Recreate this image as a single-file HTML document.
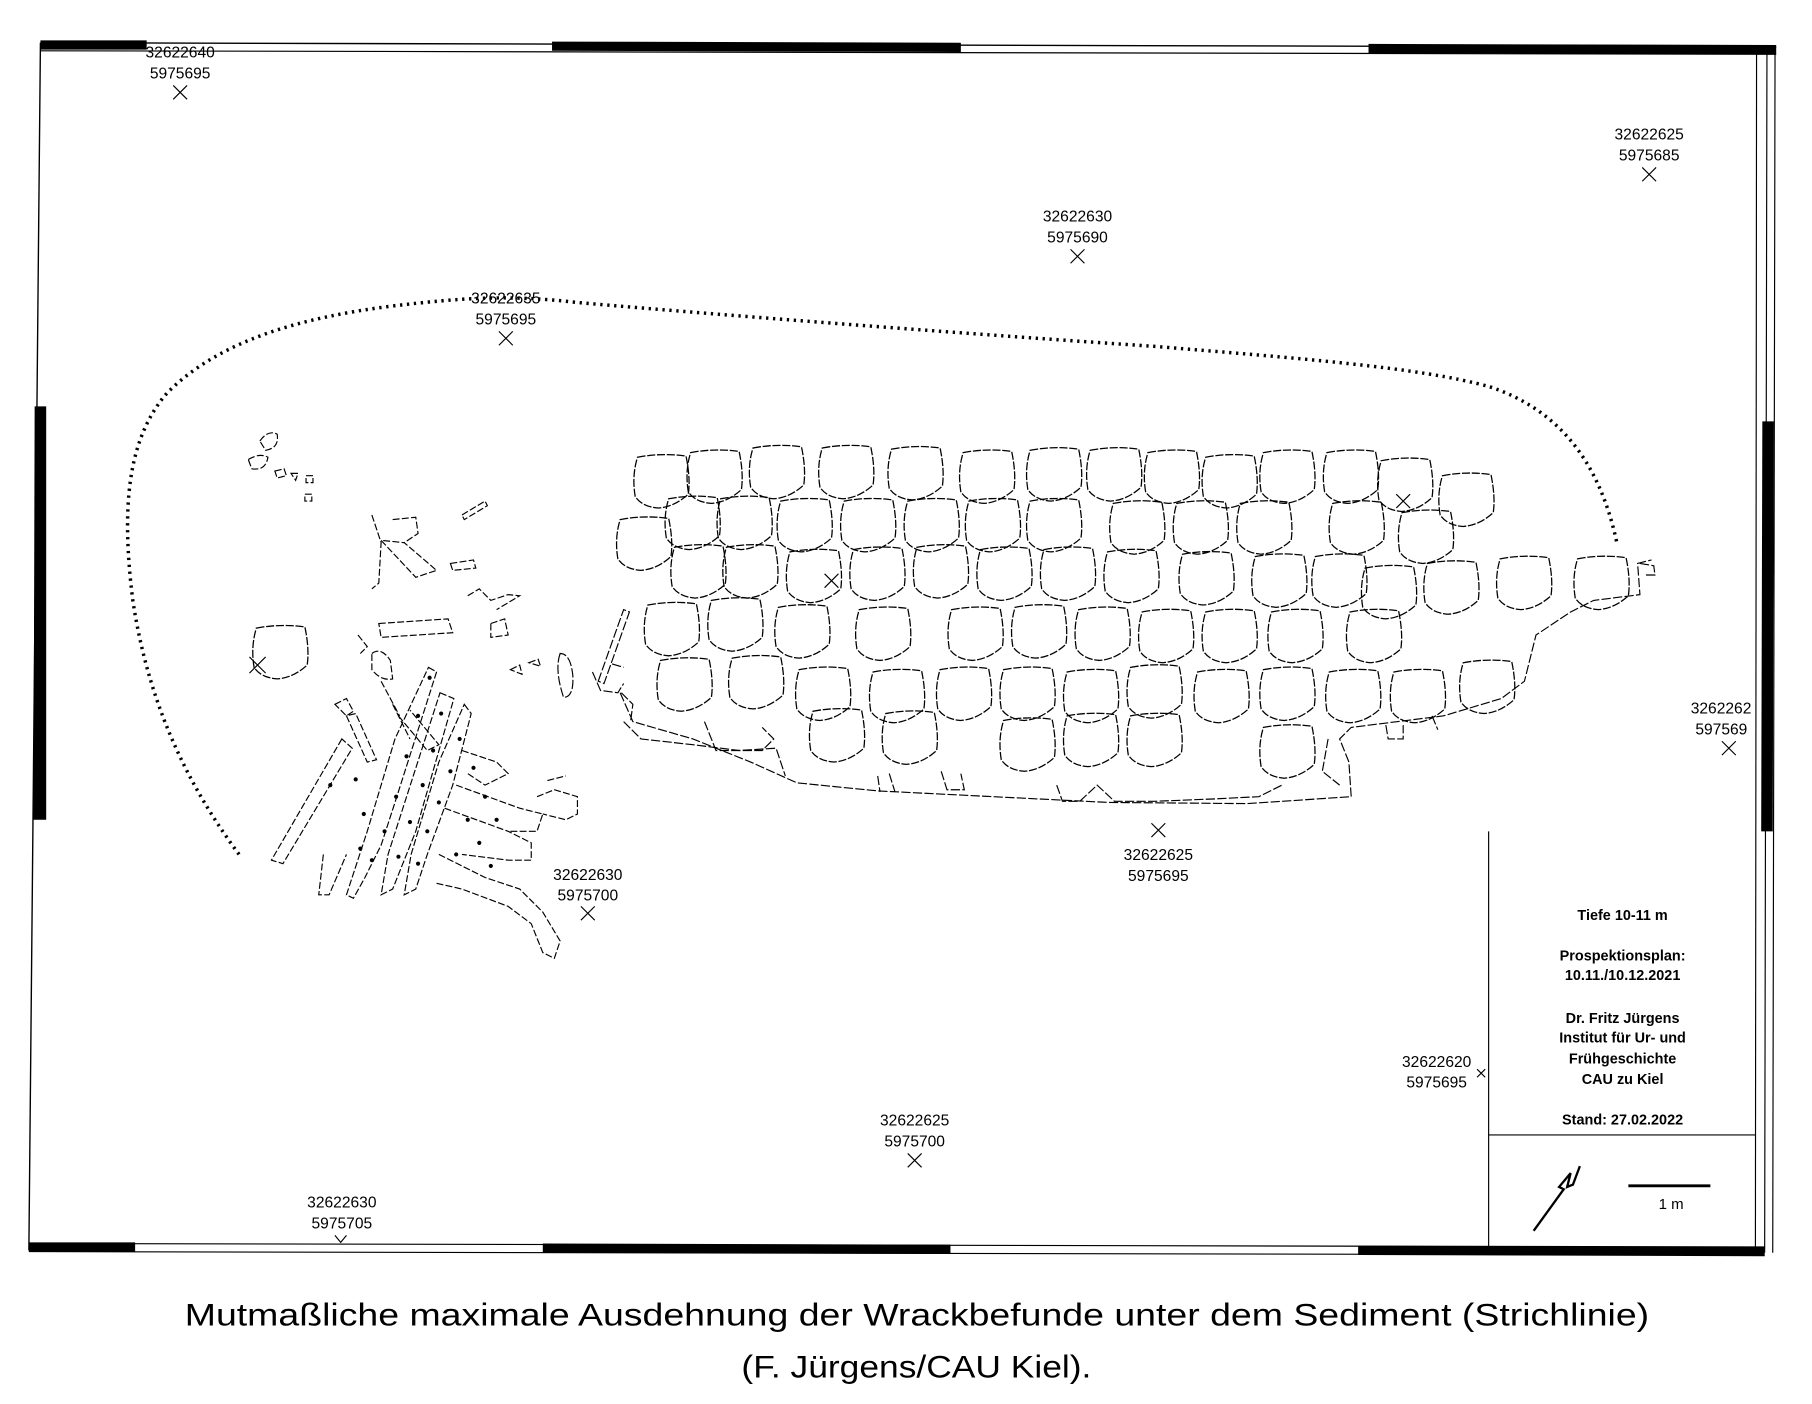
<!DOCTYPE html>
<html><head><meta charset="utf-8"><style>
html,body{margin:0;padding:0;background:#fff;}
svg{display:block;}
text{font-family:"Liberation Sans",sans-serif;}
</style></head><body>
<svg width="1812" height="1404" viewBox="0 0 1569 1216" preserveAspectRatio="none" xmlns="http://www.w3.org/2000/svg">
<defs>
<path id="st" d="M4,4 Q25,0 46,3 Q50,22 48,36 Q36,47 22,48 Q8,47 2,38 Q-1,20 4,4 Z" fill="none" stroke="#000" stroke-width="1.1" stroke-dasharray="7 1.5"/>
</defs>
<rect width="1569" height="1216" fill="#fff"/>
<g stroke="#000" fill="none">
<path d="M35,37 L1538,41" stroke-width="1.2"/>
<path d="M35,44 L1538,47" stroke-width="1"/>
<path d="M35,37 L25,1083" stroke-width="1.2"/>
<path d="M1530,41 L1528,1085" stroke-width="1"/>
<path d="M1537,41 L1535,1085" stroke-width="1"/>
<path d="M25,1077 L1528,1080" stroke-width="1"/>
<path d="M25,1084 L1528,1087" stroke-width="1"/>
</g>
<g fill="#000">
<polygon points="35,35 127,35 127,43 35,43"/>
<polygon points="478,36 832,37 832,45 478,44"/>
<polygon points="1185,38 1538,39 1538,47 1185,46"/>
<polygon points="30,352 40,352 40,710 29,710"/>
<polygon points="1526,365 1536,365 1535,720 1525,720"/>
<polygon points="25,1076 117,1076 117,1084 25,1084"/>
<polygon points="470,1077 823,1078 823,1086 470,1085"/>
<polygon points="1176,1079 1528,1080 1528,1088 1176,1087"/>
</g>
<g stroke="#000" stroke-width="1" fill="none">
<line x1="1289" y1="720" x2="1289" y2="1080"/>
<line x1="1521" y1="40" x2="1520" y2="1080"/>
<line x1="1289" y1="983" x2="1520" y2="983"/>
<line x1="1410" y1="1027" x2="1481" y2="1027" stroke-width="2.5"/>
<path d="M1328,1066 L1354,1030 L1350,1028 L1360,1016 L1357,1028 L1362,1026 L1368,1010" stroke-width="2"/>
</g>
<g font-size="12.5" font-weight="bold" text-anchor="middle" fill="#000">
<text x="1405" y="797">Tiefe 10-11 m</text>
<text x="1405" y="832">Prospektionsplan:</text>
<text x="1405" y="849">10.11./10.12.2021</text>
<text x="1405" y="886">Dr. Fritz Jürgens</text>
<text x="1405" y="903">Institut für Ur- und</text>
<text x="1405" y="921">Frühgeschichte</text>
<text x="1405" y="939">CAU zu Kiel</text>
<text x="1405" y="974">Stand: 27.02.2022</text>
</g>
<text x="1447" y="1047" font-size="13" text-anchor="middle">1 m</text>
<g font-size="13.5" text-anchor="middle" fill="#000">
<text x="156" y="50">32622640</text><text x="156" y="68">5975695</text>
<text x="1428" y="121">32622625</text><text x="1428" y="139">5975685</text>
<text x="933" y="192">32622630</text><text x="933" y="210">5975690</text>
<text x="438" y="263">32622635</text><text x="438" y="281">5975695</text>
<text x="509" y="762">32622630</text><text x="509" y="780">5975700</text>
<text x="1003" y="745">32622625</text><text x="1003" y="763">5975695</text>
<text x="792" y="975">32622625</text><text x="792" y="993">5975700</text>
<text x="296" y="1046">32622630</text><text x="296" y="1064">5975705</text>
<text x="1244" y="924">32622620</text><text x="1244" y="942">5975695</text>
<text x="1464" y="618" text-anchor="start">3262262</text><text x="1468" y="636" text-anchor="start">597569</text>
</g>
<g stroke="#000" stroke-width="1" fill="none">
<path d="M150,74 l12,12 M162,74 l-12,12"/>
<path d="M1422,145 l12,12 M1434,145 l-12,12"/>
<path d="M927,216 l12,12 M939,216 l-12,12"/>
<path d="M432,287 l12,12 M444,287 l-12,12"/>
<path d="M503,785 l12,12 M515,785 l-12,12"/>
<path d="M997,713 l12,12 M1009,713 l-12,12"/>
<path d="M786,999 l12,12 M798,999 l-12,12"/>
<path d="M1279,926 l7,7 M1286,926 l-7,7"/>
<path d="M1491,642 l12,12 M1503,642 l-12,12"/>
<path d="M290,1070 l5,6 l5,-6"/>
<path d="M216,569 l14,14 M230,569 l-14,14"/>
<path d="M714,497 l12,12 M726,497 l-12,12"/>
<path d="M1209,428 l12,12 M1221,428 l-12,12"/>
</g>
<path d="M207,740 C170,690 130,620 115,520 C105,440 110,380 145,340 C190,295 260,275 340,265 C400,258 440,255 500,262 C650,275 850,290 1000,300 C1120,310 1230,318 1290,335 C1350,355 1385,400 1400,470" fill="none" stroke="#000" stroke-width="3" stroke-dasharray="2 4"/>
<g>
<use href="#st" x="548" y="392"/><use href="#st" x="594" y="388"/><use href="#st" x="648" y="384"/><use href="#st" x="708" y="384"/><use href="#st" x="768" y="385"/><use href="#st" x="830" y="388"/><use href="#st" x="888" y="386"/><use href="#st" x="940" y="386"/><use href="#st" x="990" y="388"/><use href="#st" x="1040" y="392"/><use href="#st" x="1090" y="388"/><use href="#st" x="1145" y="388"/><use href="#st" x="1192" y="395"/><use href="#st" x="1245" y="408"/>
<use href="#st" x="575" y="428"/><use href="#st" x="620" y="428"/><use href="#st" x="672" y="430"/><use href="#st" x="727" y="430"/><use href="#st" x="782" y="430"/><use href="#st" x="835" y="430"/><use href="#st" x="888" y="430"/><use href="#st" x="960" y="432"/><use href="#st" x="1015" y="432"/><use href="#st" x="1070" y="432"/><use href="#st" x="1150" y="432"/><use href="#st" x="1210" y="440"/>
<use href="#st" x="533" y="446"/><use href="#st" x="580" y="470"/><use href="#st" x="625" y="470"/><use href="#st" x="680" y="474"/><use href="#st" x="735" y="472"/><use href="#st" x="790" y="470"/><use href="#st" x="845" y="472"/><use href="#st" x="900" y="472"/><use href="#st" x="955" y="474"/><use href="#st" x="1020" y="476"/><use href="#st" x="1083" y="478"/><use href="#st" x="1135" y="478"/><use href="#st" x="1178" y="488"/><use href="#st" x="1232" y="484"/><use href="#st" x="1295" y="480"/><use href="#st" x="1362" y="480"/>
<use href="#st" x="557" y="520"/><use href="#st" x="612" y="516"/><use href="#st" x="670" y="522"/><use href="#st" x="740" y="524"/><use href="#st" x="820" y="524"/><use href="#st" x="875" y="522"/><use href="#st" x="930" y="524"/><use href="#st" x="985" y="526"/><use href="#st" x="1040" y="526"/><use href="#st" x="1097" y="526"/><use href="#st" x="1165" y="526"/>
<use href="#st" x="568" y="568"/><use href="#st" x="630" y="566"/><use href="#st" x="688" y="576"/><use href="#st" x="752" y="578"/><use href="#st" x="810" y="576"/><use href="#st" x="865" y="576"/><use href="#st" x="920" y="578"/><use href="#st" x="975" y="574"/><use href="#st" x="1033" y="578"/><use href="#st" x="1090" y="576"/><use href="#st" x="1147" y="578"/><use href="#st" x="1203" y="578"/><use href="#st" x="1263" y="570"/>
<use href="#st" x="700" y="612"/><use href="#st" x="763" y="614"/><use href="#st" x="865" y="620"/><use href="#st" x="920" y="616"/><use href="#st" x="975" y="616"/><use href="#st" x="1090" y="626"/>
<use href="#st" x="218" y="540"/>
</g>
<g stroke="#000" stroke-width="1" fill="none" stroke-dasharray="8 2">
<path d="M537,600 L548,625 L600,640 L650,660 L690,678 L760,685 L860,690 L960,695 L1080,696 L1170,690 L1168,660 L1160,640 L1170,630 L1250,620 L1300,605 L1320,590 L1330,550 L1360,530 L1380,520 L1420,515 L1418,488 L1430,485"/>
<path d="M540,625 L555,640 L600,645 L640,650 L672,648 L680,672"/>
<path d="M610,625 L620,650 L660,650 L670,640 L660,630"/>
<path d="M760,672 L762,686 M770,670 L775,686 M815,668 L820,684 L835,684 L832,670"/>
<path d="M915,680 L920,694 L935,694 L950,680 L965,694 L1000,694 L1050,692 L1090,690 L1110,680"/>
<path d="M1200,628 L1202,640 L1215,640 L1215,628 M1240,620 L1245,632"/>
<path d="M1150,640 L1145,668 L1160,680"/>
<path d="M518,590 L540,528 L545,530 L523,592 Z"/>
<path d="M485,566 Q480,580 488,604 Q497,604 496,585 Q494,566 485,566 Z"/>
<path d="M513,582 L520,598 L535,600 L540,592 M530,575 L540,578"/>
<path d="M538,600 L548,610 L546,625"/>
<path d="M1420,488 L1432,490 L1433,498 L1425,498"/>
</g>
<g stroke="#000" stroke-width="1" fill="none" stroke-dasharray="6 2">
<path d="M225,382 Q232,372 240,376 Q242,388 230,390 Z"/>
<path d="M215,398 Q225,392 232,396 Q230,408 218,406 Z"/>
<path d="M238,408 l8,-2 l2,6 l-8,2 Z M252,410 l6,0 l-2,6 Z M265,412 l6,0 l0,6 l-6,0 Z M264,428 l6,0 l0,6 l-6,0 Z"/>
<path d="M322,446 L330,470 L328,505 L322,510"/>
<path d="M330,468 L360,500 L378,494 L350,470 Z"/>
<path d="M340,450 L360,448 L362,462 L350,470"/>
<path d="M400,446 L420,434 L422,438 L402,450 Z"/>
<path d="M390,488 L410,485 L412,492 L392,494 Z"/>
<path d="M405,516 L415,510 L425,520 L440,515 L450,516 L430,528"/>
<path d="M328,540 L388,536 L392,548 L330,552 Z"/>
<path d="M425,540 L437,536 L440,550 L425,552 Z"/>
<path d="M310,550 L318,560 L312,566 M322,566 Q330,560 338,572 L340,588 Q330,590 322,580 Z"/>
<path d="M442,580 l8,-4 l2,8 Z M458,574 l8,-3 l2,6 Z"/>
<path d="M330,590 L346,620 M340,610 L355,640"/>
<path d="M290,610 L300,605 L306,616 L300,620 Z"/>
<path d="M300,620 L318,660 L326,658 L308,618 Z"/>
<path d="M296,640 L235,745 L245,748 L305,648 Z"/>
<path d="M371,578 L378,582 L342,695 L330,732 L316,760 L306,778 L300,775 L318,720 L342,640 Z"/>
<path d="M381,600 L393,605 L360,720 L340,770 L330,775 L336,740 Z"/>
<path d="M402,610 L408,618 L392,680 L370,740 L360,770 L350,775 L356,740 L380,660 Z"/>
<path d="M280,740 L276,775 L285,775 L300,740"/>
<path d="M385,700 L440,720 L460,730 L460,745 L440,745 L400,740"/>
<path d="M400,650 L430,660 L440,670 L420,680 L405,670"/>
<path d="M395,680 L450,700 L470,705 L465,720 L440,720"/>
<path d="M380,740 L420,760 L450,770 L470,790 L485,815 L480,830 L470,825 L460,800 L440,785 L400,770 L378,765"/>
<path d="M465,690 L480,684 L500,690 L500,705 L490,710 L470,705"/>
<path d="M474,676 L490,672"/>
<path d="M345,620 L370,650 L380,645 L355,615"/>
</g>
<g fill="#000">
<circle cx="372" cy="587" r="1.8"/><circle cx="362" cy="620" r="1.8"/><circle cx="352" cy="655" r="1.8"/><circle cx="343" cy="690" r="1.8"/><circle cx="333" cy="720" r="1.8"/><circle cx="322" cy="745" r="1.8"/>
<circle cx="382" cy="618" r="1.8"/><circle cx="375" cy="650" r="1.8"/><circle cx="366" cy="680" r="1.8"/><circle cx="355" cy="712" r="1.8"/><circle cx="345" cy="742" r="1.8"/>
<circle cx="398" cy="640" r="1.8"/><circle cx="390" cy="668" r="1.8"/><circle cx="380" cy="695" r="1.8"/><circle cx="370" cy="720" r="1.8"/><circle cx="362" cy="748" r="1.8"/>
<circle cx="410" cy="665" r="1.8"/><circle cx="420" cy="690" r="1.8"/><circle cx="430" cy="710" r="1.8"/><circle cx="405" cy="710" r="1.8"/><circle cx="415" cy="730" r="1.8"/><circle cx="395" cy="740" r="1.8"/><circle cx="425" cy="750" r="1.8"/>
<circle cx="308" cy="675" r="1.8"/><circle cx="315" cy="705" r="1.8"/><circle cx="312" cy="735" r="1.8"/><circle cx="286" cy="680" r="1.8"/>
</g>
<text x="160" y="1148" font-size="27" textLength="1268" lengthAdjust="spacingAndGlyphs">Mutmaßliche maximale Ausdehnung der Wrackbefunde unter dem Sediment (Strichlinie)</text>
<text x="642" y="1193" font-size="27" textLength="303" lengthAdjust="spacingAndGlyphs">(F. Jürgens/CAU Kiel).</text>
</svg>
</body></html>
